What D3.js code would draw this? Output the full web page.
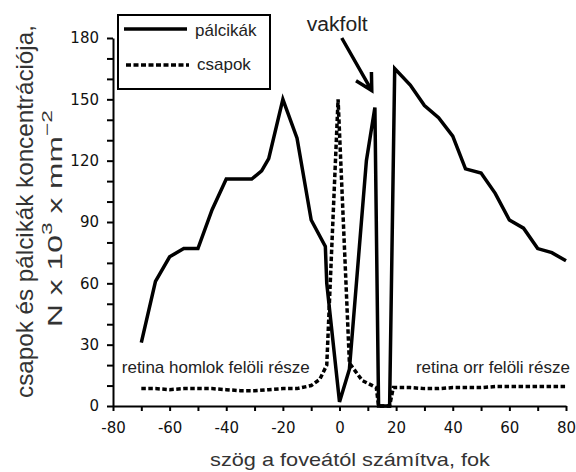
<!DOCTYPE html>
<html>
<head>
<meta charset="utf-8">
<script src="https://cdn.jsdelivr.net/npm/d3@7"></script>
<style>
  body { margin: 0; background: #fff; }
  svg { display: block; }
</style>
</head>
<body>
<div id="chart"></div>
<script>
// rods (pálcikák) and cones (csapok), thousand / mm^2
const rodAngle   = [-70, -65, -60, -55, -50, -45, -40, -31, -27.5, -25, -20, -15, -10, -5, -4.5, 0, 3.5, 9.5, 12.5, 13.8, 17.7, 19.5, 25, 30, 35, 40, 44.5, 50, 55, 60, 65, 70, 75, 80];
const rodDensity = [31, 61, 73, 77, 77, 96, 111, 111, 115, 121, 150, 131, 91, 78, 60, 2, 18, 120, 146, 0, 0, 165, 157, 147, 141, 132, 116, 114, 104, 91, 87, 77, 75, 71];

const coneAngle   = [-70, -65, -60, -55, -50, -45, -40, -35, -30, -25, -20, -15, -10, -7, -4.5, -0.5, 3.5, 8, 13, 13.8, 17.7, 19, 25, 30, 35, 40, 45, 50, 55, 60, 65, 70, 75, 80];
const coneDensity = [8.5, 8.5, 8, 8.5, 8.5, 8.5, 8, 7.5, 7.5, 8, 8.5, 8.5, 10, 13, 20, 150, 21, 12.5, 9, 0, 0, 9, 9, 8.5, 8.5, 9, 9, 9, 9.5, 9.5, 9.5, 9.5, 9.5, 9.5];

const xTickLabels = [-80, -60, -40, -20, 0, 20, 40, 60, 80];
const yTickLabels = [0, 30, 60, 90, 120, 150, 180];

const seriesNames = ['pálcikák', 'csapok'];

// annotations, in data units
const arrowFrom = [0.8, 180];
const arrowTo = [11.4, 154.3];

const width = 576, height = 472;
const sans = '"Liberation Sans", Arial, sans-serif';

const x = d3.scaleLinear().domain([-80, 80]).range([113, 566]);
const y = d3.scaleLinear().domain([0, 180]).range([406, 38]);

const svg = d3.select('#chart').append('svg')
    .attr('width', width)
    .attr('height', height)
    .attr('viewBox', [0, 0, width, height]);

svg.append('rect').attr('width', width).attr('height', height).attr('fill', '#fff');

// stretch a text node so its length matches what the picture shows
function stretch(text, target) {
    return target / text.node().getComputedTextLength();
}

// axes
const xAxis = d3.axisBottom(x)
    .tickValues(d3.range(-80, 81, 10))
    .tickFormat(d => xTickLabels.includes(d) ? d : '')
    .tickSize(5)
    .tickPadding(11)
    .tickSizeOuter(0);

const yAxis = d3.axisLeft(y)
    .tickValues(d3.range(0, 181, 10))
    .tickFormat(d => yTickLabels.includes(d) ? d : '')
    .tickSize(6)
    .tickPadding(8)
    .tickSizeOuter(0);

function styleAxis(g) {
    g.select('.domain').attr('stroke', '#000').attr('stroke-width', 2);
    g.selectAll('.tick line').attr('stroke', '#000').attr('stroke-width', 2);
    g.selectAll('.tick text')
        .attr('font-family', '"DejaVu Sans", sans-serif')
        .attr('font-size', 15)
        .attr('fill', '#111');
}

svg.append('g')
    .attr('transform', `translate(0,${y(0)})`)
    .call(xAxis)
    .call(styleAxis);

svg.append('g')
    .attr('transform', `translate(${x(-80)},0)`)
    .call(yAxis)
    .call(styleAxis);

// curves
const line = d3.line().x(d => x(d[0])).y(d => y(d[1]));

svg.append('path')
    .datum(d3.zip(coneAngle, coneDensity))
    .attr('d', line)
    .attr('fill', 'none')
    .attr('stroke', '#000')
    .attr('stroke-width', 3.5)
    .attr('stroke-dasharray', '4.5,2.5');

svg.append('path')
    .datum(d3.zip(rodAngle, rodDensity))
    .attr('d', line)
    .attr('fill', 'none')
    .attr('stroke', '#000')
    .attr('stroke-width', 3.5);

// legend
const legend = svg.append('g');
legend.append('rect')
    .attr('x', 118).attr('y', 15)
    .attr('width', 152).attr('height', 74)
    .attr('fill', '#fff')
    .attr('stroke', '#000')
    .attr('stroke-width', 2);
legend.append('line')
    .attr('x1', 124).attr('x2', 187).attr('y1', 29).attr('y2', 29)
    .attr('stroke', '#000').attr('stroke-width', 3.5);
legend.append('line')
    .attr('x1', 126).attr('x2', 189).attr('y1', 65).attr('y2', 65)
    .attr('stroke', '#000').attr('stroke-width', 3.5)
    .attr('stroke-dasharray', '5,2.5');
legend.selectAll('text')
    .data(seriesNames)
    .join('text')
    .attr('x', (d, i) => i ? 197 : 195)
    .attr('y', (d, i) => i ? 69.5 : 35.5)
    .attr('font-family', sans)
    .attr('font-size', 17)
    .attr('fill', '#222')
    .text(d => d);

// blind spot arrow
const tail = [x(arrowFrom[0]), y(arrowFrom[1])];
const tip = [x(arrowTo[0]), y(arrowTo[1])];
const back = Math.atan2(tail[1] - tip[1], tail[0] - tip[0]);
const headLen = 18.5, spread = 0.5;
const wing = a => [tip[0] + headLen * Math.cos(a), tip[1] + headLen * Math.sin(a)];
const w1 = wing(back + spread), w2 = wing(back - spread);
svg.append('path')
    .attr('d', `M${tail}L${tip}M${w1}L${tip}L${w2}`)
    .attr('fill', 'none')
    .attr('stroke', '#000')
    .attr('stroke-width', 3.5)
    .attr('stroke-linejoin', 'miter');

const vak = svg.append('text')
    .attr('text-anchor', 'middle')
    .attr('font-family', sans)
    .attr('font-size', 21)
    .attr('fill', '#222')
    .text('vakfolt');
vak.attr('transform', `translate(${x(-0.8)},${y(183.5)}) scale(${stretch(vak, 61)},1)`);

svg.append('text')
    .attr('x', x(-76.9))
    .attr('y', y(16.3))
    .attr('font-family', sans)
    .attr('font-size', 17)
    .attr('fill', '#222')
    .text('retina homlok felöli része');

svg.append('text')
    .attr('x', x(81.4))
    .attr('y', y(16.3))
    .attr('text-anchor', 'end')
    .attr('font-family', sans)
    .attr('font-size', 17)
    .attr('fill', '#222')
    .text('retina orr felöli része');

// axis titles
const xTitle = svg.append('text')
    .attr('text-anchor', 'middle')
    .attr('font-family', sans)
    .attr('font-size', 18)
    .attr('fill', '#333')
    .text('szög a foveától számítva, fok');
xTitle.attr('transform', `translate(350,466) scale(${stretch(xTitle, 280)},1)`);

const yTitle1 = svg.append('text')
    .attr('text-anchor', 'middle')
    .attr('font-family', sans)
    .attr('font-size', 23)
    .attr('fill', '#333')
    .text('csapok és pálcikák koncentrációja,');
yTitle1.attr('transform', `translate(33,211.5) rotate(-90) scale(${stretch(yTitle1, 373)},1)`);

const yTitle2 = svg.append('text')
    .attr('text-anchor', 'middle')
    .attr('font-family', sans)
    .attr('font-size', 21)
    .attr('fill', '#333');
yTitle2.append('tspan').text('N x 10');
yTitle2.append('tspan').attr('font-size', 15).attr('dy', -10).text('3');
yTitle2.append('tspan').attr('dy', 10).text(' x mm');
yTitle2.append('tspan').attr('font-size', 15).attr('dy', -10).text('−2');
yTitle2.attr('transform', `translate(62,218.5) rotate(-90) scale(${stretch(yTitle2, 217)},1)`);
</script>
</body>
</html>
